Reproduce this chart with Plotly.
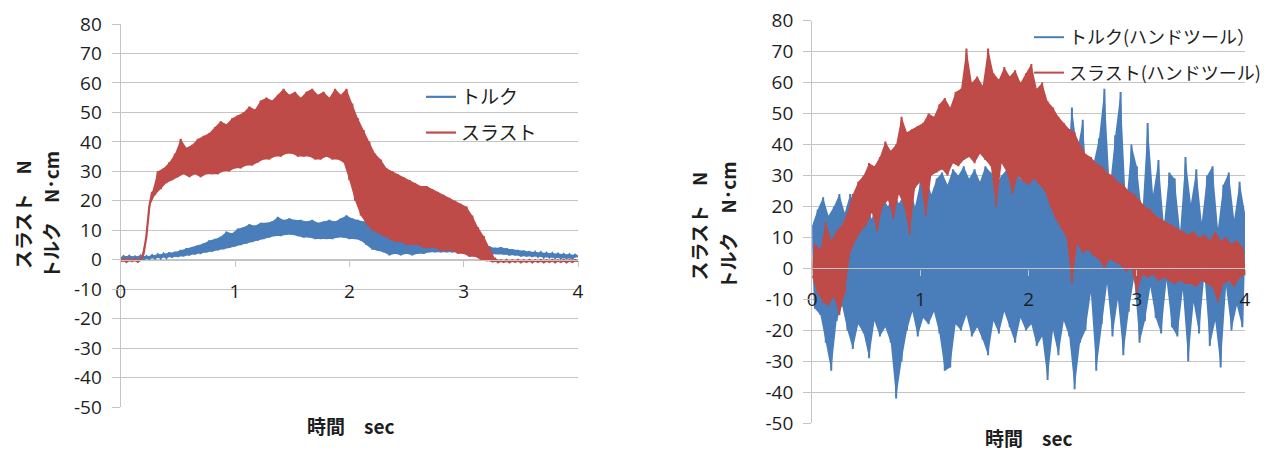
import plotly.graph_objects as go

# ---------------- data ----------------
# sample interval 0.025 s, 0 .. 4 s (161 samples)
time_s = [round(i * 0.025, 3) for i in range(161)]

# Left chart: drill (alternating trough / crest)
left_torque = [
    0.2, 1.2, 0.1, 1.3, 0.3, 1.1, 0.2, 1.4, 0.1, 1.2,
    0.3, 1.5, 0.4, 1.8, 0.5, 2.0, 0.6, 2.4, 0.8, 2.6,
    1.0, 3.2, 1.2, 3.8, 1.5, 4.2, 1.8, 4.8, 2.0, 5.5,
    2.5, 6.5, 2.8, 7.0, 3.2, 7.8, 3.5, 9.5, 4.0, 9.0,
    4.5, 10.5, 5.0, 11.0, 5.5, 12.0, 6.0, 11.5, 6.5, 12.5,
    7.0, 12.5, 7.5, 13.0, 8.0, 14.5, 8.0, 13.5, 8.5, 14.0,
    8.5, 13.5, 8.0, 13.5, 7.5, 13.0, 7.5, 13.5, 7.0, 12.5,
    7.0, 13.0, 7.0, 13.5, 7.0, 13.0, 7.5, 14.0, 7.5, 15.0,
    7.0, 14.0, 7.0, 13.5, 6.5, 13.0, 5.0, 13.0, 3.5, 12.0,
    3.0, 11.5, 2.5, 10.0, 1.5, 9.5, 2.0, 9.0, 1.5, 8.5,
    2.0, 8.0, 1.5, 8.0, 2.0, 7.5, 2.0, 7.0, 2.5, 6.5,
    2.5, 6.5, 2.5, 6.0, 2.5, 6.0, 2.5, 5.5, 2.5, 5.5,
    2.0, 5.0, 2.0, 5.0, 2.0, 4.5, 2.0, 4.5, 2.0, 4.5,
    2.0, 4.0, 2.0, 4.2, 1.8, 3.8, 1.5, 3.5, 1.5, 3.2,
    1.2, 3.0, 1.2, 2.8, 1.0, 2.6, 1.0, 2.5, 0.8, 2.3,
    0.8, 2.2, 0.6, 2.0, 0.5, 1.9, 0.5, 1.8, 0.3, 1.7,
    1.0,
]
left_thrust = [
    -0.6, 0.2, -0.8, 0.1, -0.5, 0.2, -0.7, 0.0, 2, 8,
    18, 23, 22, 30, 24, 31, 26, 33, 27, 36,
    28, 41, 29, 38, 28, 39, 29, 41, 28, 42,
    29, 43, 29, 45, 29, 47, 30, 46, 30, 48,
    31, 49, 31, 50, 32, 52, 32, 51, 33, 54,
    34, 55, 34, 54, 35, 56, 35, 58, 36, 56,
    36, 57, 35, 55, 35, 57, 35, 58, 34, 56,
    34, 57, 35, 55, 34, 58, 34, 56, 33, 58,
    27, 53, 20, 48, 15, 44, 12, 40, 10, 36,
    9, 34, 8, 31, 7, 30, 6, 29, 6, 28,
    5, 27, 5, 26, 5, 25, 4, 25, 4, 24,
    4, 23, 3, 22, 3, 21, 3, 20, 2, 19,
    2, 18, 1, 15, 1, 11, 0, 8, -0.5, 4,
    -0.8, 0.3, -0.9, -0.2, -0.8, -0.1, -0.9, -0.2, -0.8, -0.1,
    -0.9, -0.2, -0.8, -0.1, -0.9, -0.2, -0.8, -0.1, -0.9, -0.2,
    -0.8, -0.1, -0.9, -0.2, -0.8, -0.1, -0.9, -0.2, -0.8, -0.1,
    -0.5,
]

# Right chart: hand tool
right_torque = [
    14, -13, 19, -15, 23, -24, 17, -33, 20, -17,
    24, -12, 18, -20, 24, -26, 20, -18, 19, -21,
    21, -29, 16, -17, 22, -22, 23, -19, 20, -24,
    25, -42, 21, -30, 24, -20, 27, -14, 20, -22,
    28, -16, 30, -18, 24, -14, 29, -21, 31, -33,
    27, -32, 32, -18, 30, -20, 33, -15, 29, -22,
    32, -19, 28, -23, 33, -28, 31, -17, 27, -21,
    30, -14, 32, -19, 26, -24, 30, -16, 28, -20,
    33, -18, 30, -25, 34, -22, 29, -36, 31, -20,
    35, -28, 33, -17, 30, -22, 52, -39, 38, -24,
    48, -20, 22, -8, 34, -33, 42, -18, 58, -5,
    26, -22, 43, -10, 57, -28, 20, -14, 40, -3,
    33, -24, 17, -17, 47, -6, 24, -16, 35, -21,
    14, -4, 31, -19, 29, -22, 12, -7, 36, -30,
    21, -11, 32, -21, 15, -2, 30, -25, 33, -17,
    13, -32, 27, -6, 31, -20, 16, -12, 28, -19,
    18,
]
right_thrust = [
    -3, 8, -8, 6, -11, 15, -12, 9, -9, 12,
    -15, 14, -8, 18, 5, 24, 9, 28, 12, 30,
    14, 34, 18, 33, 12, 36, 20, 41, 22, 38,
    16, 40, 24, 49, 20, 44, 11, 45, 26, 46,
    28, 47, 17, 50, 30, 49, 31, 53, 32, 55,
    30, 52, 34, 57, 33, 58, 35, 71, 36, 60,
    34, 62, 37, 59, 35, 71, 33, 63, 20, 61,
    34, 65, 31, 62, 24, 64, 30, 60, 28, 63,
    27, 66, 29, 58, 27, 60, 25, 54, 20, 52,
    16, 49, 13, 47, 10, 45, -5, 44, 8, 40,
    5, 37, 6, 36, 4, 34, 3, 33, 0, 31,
    3, 30, 2, 28, 1, 27, -1, 25, 0, 24,
    -8, 22, -2, 20, -3, 19, -2, 17, -4, 16,
    -3, 15, -4, 14, -5, 13, -4, 12, -5, 11,
    -5, 12, -6, 10, -4, 11, -5, 9, -6, 12,
    -11, 9, -5, 10, -4, 8, -6, 9, -3, 7,
    -2,
]

x_ticks = [0, 1, 2, 3, 4]
y_ticks = [80, 70, 60, 50, 40, 30, 20, 10, 0, -10, -20, -30, -40, -50]
y_tick_labels = ["80", "70", "60", "50", "40", "30", "20", "10", "0",
                 "-10", "-20", "-30", "-40", "-50"]
left_names = ["トルク", "スラスト"]
right_names = ["トルク(ハンドツール）", "スラスト(ハンドツール)"]
y_title_lines = ["スラスト　N", "トルク　N･cm"]
x_title = "時間　sec"

BLUE = "#4A7EBB"
RED = "#BE4B48"
GRID = "#c4c4c4"
FONT = "Noto Sans CJK JP"
NUMFONT = "Open Sans"
TXT = "#1e1e1e"

fig = go.Figure()


def add_series(vals, name, color, xa, ya, legend, width):
    # solid band between the troughs and crests of the oscillation, then the trace itself
    fig.add_trace(go.Scatter(x=time_s[0::2], y=vals[0::2], mode="lines",
                             line=dict(color=color, width=0), xaxis=xa, yaxis=ya,
                             showlegend=False, hoverinfo="skip"))
    fig.add_trace(go.Scatter(x=time_s[1::2], y=vals[1::2], mode="lines",
                             line=dict(color=color, width=0), fill="tonexty",
                             fillcolor=color, xaxis=xa, yaxis=ya,
                             showlegend=False, hoverinfo="skip"))
    fig.add_trace(go.Scatter(x=time_s, y=vals, mode="lines", name=name,
                             line=dict(color=color, width=width), xaxis=xa, yaxis=ya,
                             legend=legend, legendgroup=name))


add_series(left_torque, left_names[0], BLUE, "x", "y", "legend", 2.2)
add_series(left_thrust, left_names[1], RED, "x", "y", "legend", 2.2)
add_series(right_torque, right_names[0], BLUE, "x2", "y2", "legend2", 2.0)
add_series(right_thrust, right_names[1], RED, "x2", "y2", "legend2", 2.0)

W, H = 1270, 450
# plot areas in pixels
L = dict(x0=120.7, x1=578.0, ytop=24.0, ybot=407.0)
R = dict(x0=812.3, x1=1245.0, ytop=20.7, ybot=423.3)
YMIN, YMAX = -50, 80


def dom(a):
    return [a["x0"] / W, a["x1"] / W], [1 - a["ybot"] / H, 1 - a["ytop"] / H]


def zero_pos(a):
    yd = [1 - a["ybot"] / H, 1 - a["ytop"] / H]
    return yd[0] + (0 - YMIN) / (YMAX - YMIN) * (yd[1] - yd[0])


lxd, lyd = dom(L)
rxd, ryd = dom(R)

xax = dict(range=[0, 4], tickvals=x_ticks, ticks="outside", ticklen=6, tickcolor=GRID,
           tickwidth=1.3, showline=True, linecolor=GRID, linewidth=1.3, showgrid=False,
           zeroline=False, tickfont=dict(family=NUMFONT, size=19, color=TXT),
           anchor="free", ticklabelstandoff=8, automargin=False, fixedrange=True)
yax = dict(range=[YMIN, YMAX], tickvals=y_ticks, ticktext=y_tick_labels, ticks="outside",
           ticklen=8, tickcolor=GRID, tickwidth=1.3, showline=True, linecolor=GRID,
           linewidth=1.3, showgrid=True, gridcolor=GRID, gridwidth=1.3, zeroline=False,
           tickfont=dict(family=NUMFONT, size=19, color=TXT), ticklabelstandoff=6,
           automargin=False, fixedrange=True)

ann_font = dict(family=FONT, size=19, color=TXT)
annotations = []
for (cx, cy, sep) in [(36, 215, 28), (712, 226, 29)]:
    for k, line in enumerate(y_title_lines):
        annotations.append(dict(text="<b>" + line + "</b>", x=(cx + (k - 0.5) * sep) / W,
                                y=1 - cy / H, xref="paper", yref="paper", textangle=-90,
                                xanchor="center", yanchor="middle", showarrow=False,
                                font=ann_font))
for (cx, cy) in [(350, 425), (1028, 437)]:
    annotations.append(dict(text="<b>" + x_title + "</b>", x=cx / W, y=1 - cy / H,
                            xref="paper", yref="paper", xanchor="center", yanchor="middle",
                            showarrow=False, font=dict(family=FONT, size=19, color=TXT)))

fig.update_layout(
    width=W, height=H, margin=dict(l=0, r=0, t=0, b=0, autoexpand=False),
    paper_bgcolor="white", plot_bgcolor="white",
    font=dict(family=FONT, color=TXT),
    xaxis=dict(xax, domain=lxd, position=zero_pos(L)),
    yaxis=dict(yax, domain=lyd, anchor="x"),
    xaxis2=dict(xax, domain=rxd, position=zero_pos(R)),
    yaxis2=dict(yax, domain=ryd, anchor="x2"),
    legend=dict(x=421 / W, y=1 - 78 / H, xanchor="left", yanchor="top",
                font=dict(family=FONT, size=19, color=TXT), bgcolor="rgba(0,0,0,0)",
                tracegroupgap=8, itemwidth=30),
    legend2=dict(x=1029 / W, y=1 - 19 / H, xanchor="left", yanchor="top",
                 font=dict(family=FONT, size=18, color=TXT), bgcolor="rgba(0,0,0,0)",
                 tracegroupgap=9, itemwidth=30),
    showlegend=True,
    annotations=annotations,
)

fig.write_html("out.html")
